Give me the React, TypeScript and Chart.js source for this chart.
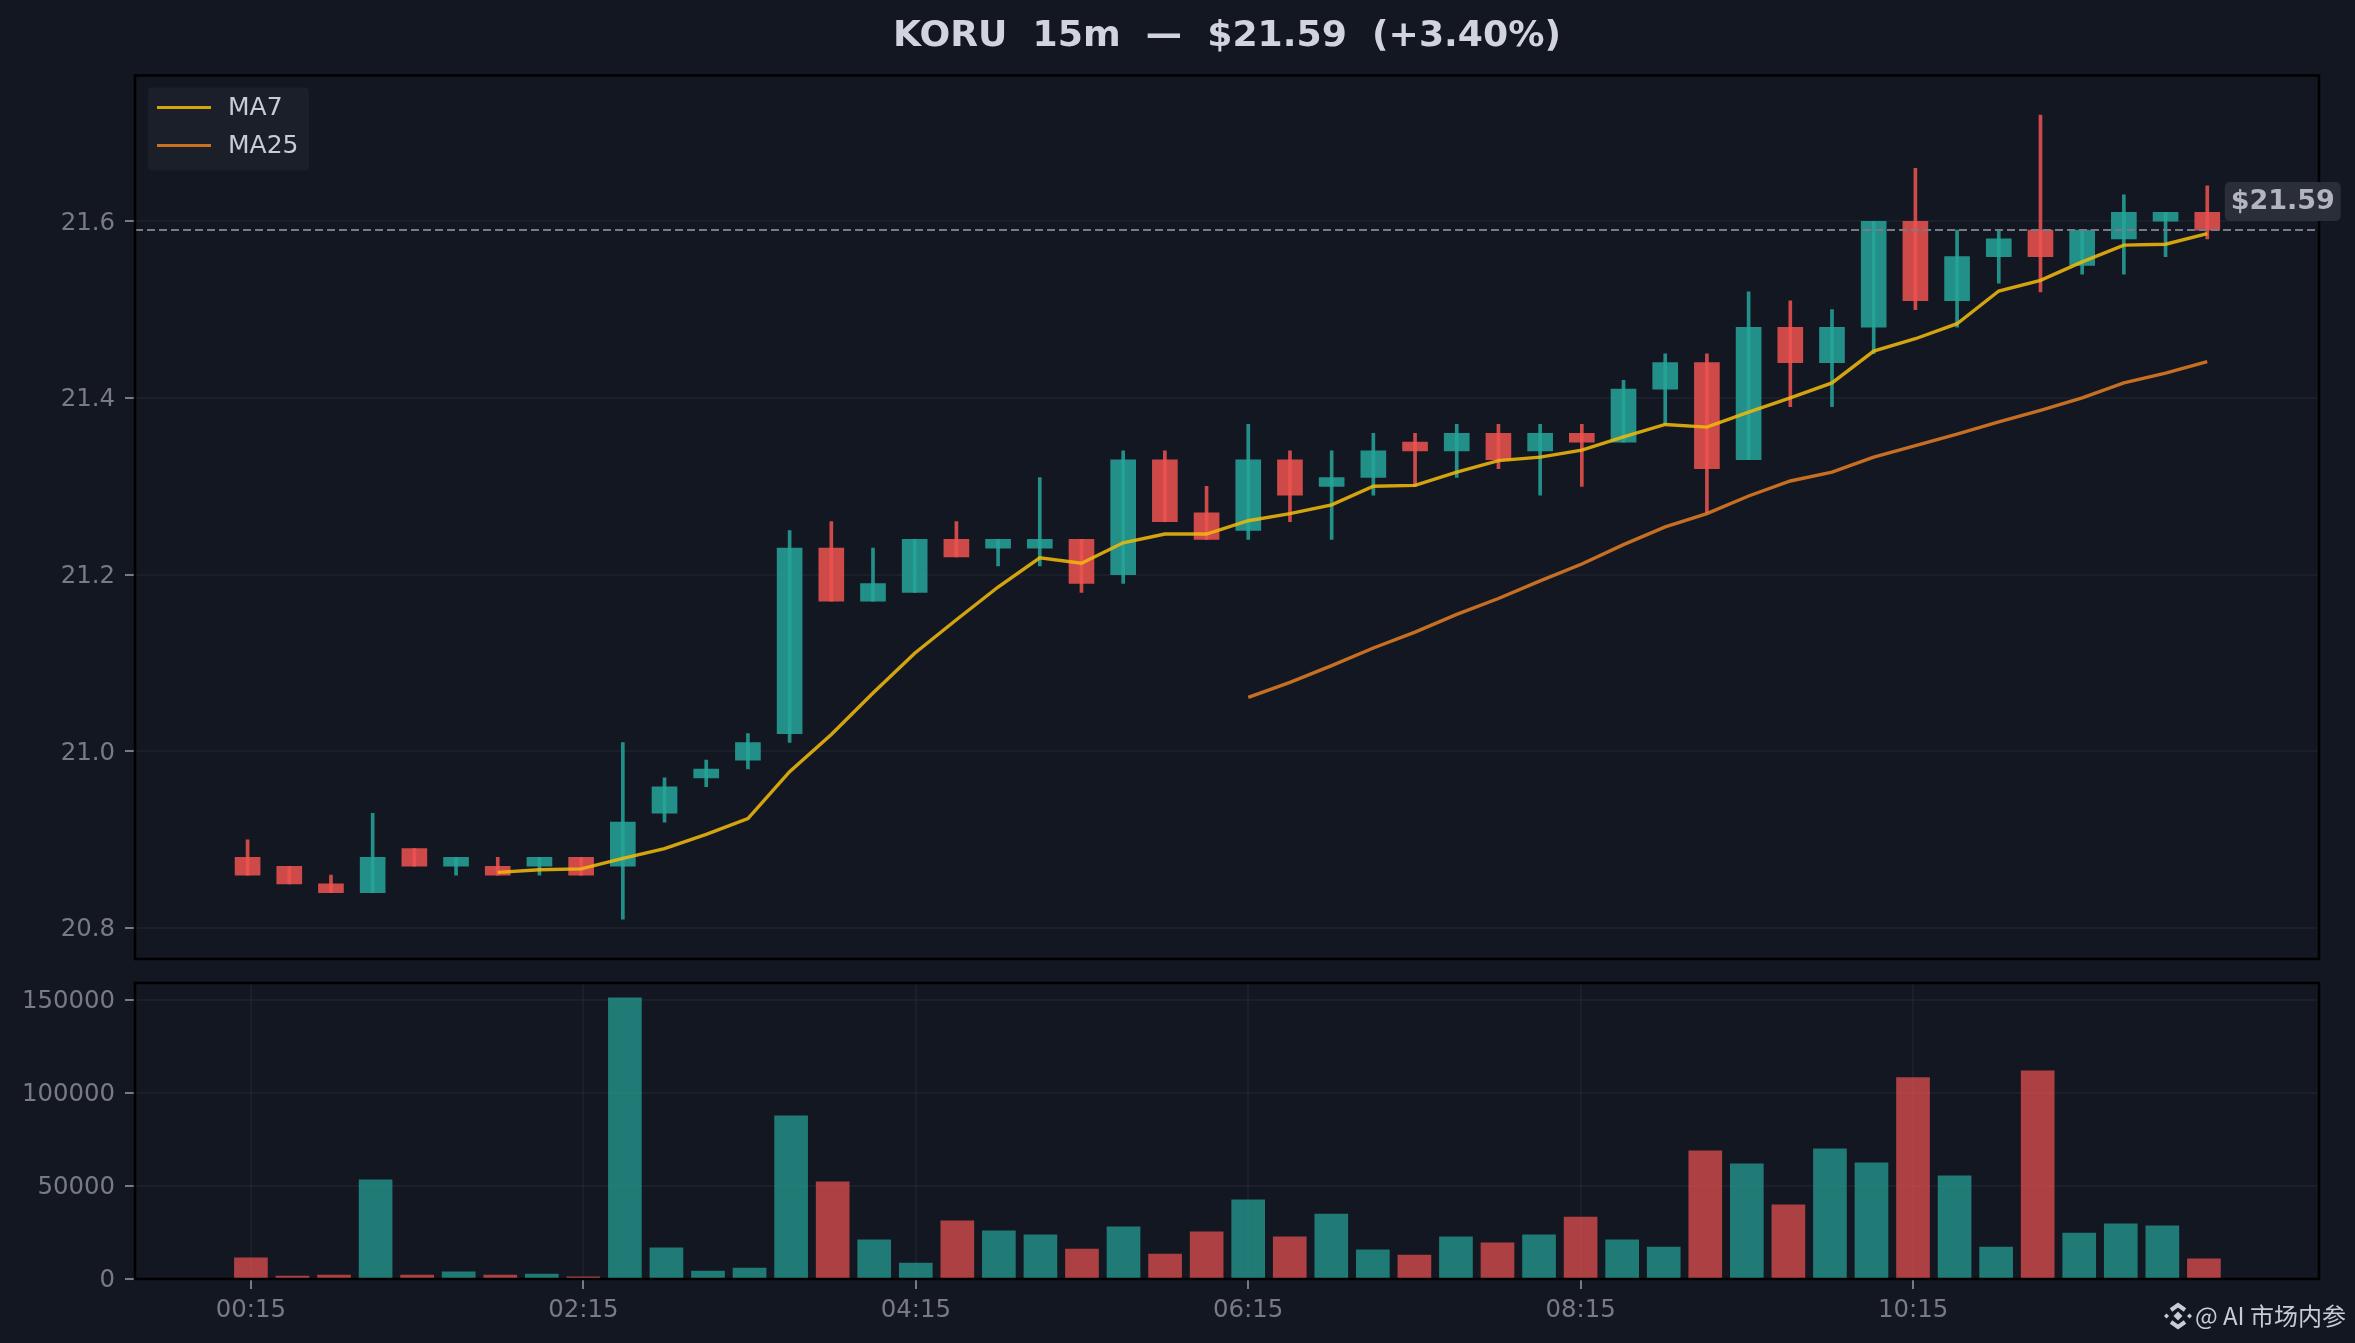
import React, { useEffect, useRef } from "react";
import { Chart, registerables } from "chart.js";

Chart.register(...registerables);

const times = [
  "00:15", "00:30", "00:45", "01:00", "01:15", "01:30", "01:45", "02:00",
  "02:15", "02:30", "02:45", "03:00", "03:15", "03:30", "03:45", "04:00",
  "04:15", "04:30", "04:45", "05:00", "05:15", "05:30", "05:45", "06:00",
  "06:15", "06:30", "06:45", "07:00", "07:15", "07:30", "07:45", "08:00",
  "08:15", "08:30", "08:45", "09:00", "09:15", "09:30", "09:45", "10:00",
  "10:15", "10:30", "10:45", "11:00", "11:15", "11:30", "11:45", "12:00",
];

const opens = [
  20.88, 20.87, 20.85, 20.84, 20.89, 20.87, 20.87, 20.87, 20.88, 20.87, 20.93, 20.97,
  20.99, 21.02, 21.23, 21.17, 21.18, 21.24, 21.23, 21.23, 21.24, 21.2, 21.33, 21.27,
  21.25, 21.33, 21.3, 21.31, 21.35, 21.34, 21.36, 21.34, 21.36, 21.35, 21.41, 21.44,
  21.33, 21.48, 21.44, 21.48, 21.6, 21.51, 21.56, 21.59, 21.55, 21.58, 21.6, 21.61,
];
const closes = [
  20.86, 20.85, 20.84, 20.88, 20.87, 20.88, 20.86, 20.88, 20.86, 20.92, 20.96, 20.98,
  21.01, 21.23, 21.17, 21.19, 21.24, 21.22, 21.24, 21.24, 21.19, 21.33, 21.26, 21.24,
  21.33, 21.29, 21.31, 21.34, 21.34, 21.36, 21.33, 21.36, 21.35, 21.41, 21.44, 21.32,
  21.48, 21.44, 21.48, 21.6, 21.51, 21.56, 21.58, 21.56, 21.59, 21.61, 21.61, 21.59,
];
const highs = [
  20.9, 20.87, 20.86, 20.93, 20.89, 20.88, 20.88, 20.88, 20.88, 21.01, 20.97, 20.99,
  21.02, 21.25, 21.26, 21.23, 21.24, 21.26, 21.24, 21.31, 21.24, 21.34, 21.34, 21.3,
  21.37, 21.34, 21.34, 21.36, 21.36, 21.37, 21.37, 21.37, 21.37, 21.42, 21.45, 21.45,
  21.52, 21.51, 21.5, 21.6, 21.66, 21.59, 21.59, 21.72, 21.59, 21.63, 21.61, 21.64,
];
const lows = [
  20.86, 20.85, 20.84, 20.84, 20.87, 20.86, 20.86, 20.86, 20.86, 20.81, 20.92, 20.96,
  20.98, 21.01, 21.17, 21.17, 21.18, 21.22, 21.21, 21.21, 21.18, 21.19, 21.26, 21.24,
  21.24, 21.26, 21.24, 21.29, 21.3, 21.31, 21.32, 21.29, 21.3, 21.35, 21.37, 21.27,
  21.33, 21.39, 21.39, 21.45, 21.5, 21.48, 21.53, 21.52, 21.54, 21.54, 21.56, 21.58,
];
const ma7 = [
  null, null, null, null, null, null, 20.863, 20.866, 20.867, 20.879, 20.89, 20.906,
  20.924, 20.977, 21.019, 21.066, 21.111, 21.149, 21.186, 21.219, 21.213, 21.236, 21.246, 21.246,
  21.261, 21.269, 21.279, 21.3, 21.301, 21.316, 21.329, 21.333, 21.341, 21.356, 21.37, 21.367,
  21.384, 21.4, 21.417, 21.453, 21.467, 21.484, 21.521, 21.533, 21.554, 21.573, 21.574, 21.586,
];
const ma25 = [
  null, null, null, null, null, null, null, null, null, null, null, null,
  null, null, null, null, null, null, null, null, null, null, null, null,
  21.061, 21.078, 21.097, 21.117, 21.135, 21.155, 21.173, 21.193, 21.212, 21.234, 21.254, 21.269,
  21.289, 21.306, 21.316, 21.333, 21.346, 21.359, 21.373, 21.386, 21.4, 21.417, 21.428, 21.441,
];
const volumes = [
  11300, 1600, 2100, 53200, 2100, 3800, 2100, 2700, 1100, 151000, 16700, 4300,
  5900, 87600, 52100, 21000, 8600, 31200, 25800, 23700, 16100, 28000, 13400, 25300,
  42500, 22600, 34900, 15600, 12900, 22600, 19400, 23700, 33300, 21000, 17200, 68800,
  61800, 39800, 69900, 62400, 108100, 55400, 17200, 111800, 24700, 29600, 28500, 10800,
];
const timeTicks = [0, 8, 16, 24, 32, 40];
const priceTicks = [20.8, 21.0, 21.2, 21.4, 21.6];
const volumeTicks = [0, 50000, 100000, 150000];
const lastPrice = 21.59;

const BG = "#131722";
const TICK = "#787b86";
const GRID = "rgba(255,255,255,0.035)";
const FONT = { family: "'DejaVu Sans'", size: 24.4 };
// the two panels do not share the same x margins
const MAIN_X = { min: -2.7, max: 49.68 };
const VOL_X = { min: -2.79, max: 49.77 };

const isUp = (i: number) => closes[i] >= opens[i];
const candleColor = (alpha: number) =>
  times.map((_, i) => (isUp(i) ? `rgba(38,166,154,${alpha})` : `rgba(239,83,80,${alpha})`));

const setTicks = (values: number[]) => (s: any) => {
  s.ticks = values.map((value) => ({ value }));
};

// fixed gutter; no extra room for the first and last tick label
const fitYAxis = (s: any) => {
  s.width = 135;
  s.paddingTop = 0;
  s.paddingBottom = 0;
};

// spines go on top of the bars
const framePlugin = {
  id: "frame",
  afterDatasetsDraw(chart: any) {
    const { ctx, chartArea: a } = chart;
    ctx.save();
    ctx.strokeStyle = "#000";
    ctx.lineWidth = 2.5;
    ctx.strokeRect(a.left, a.top, a.right - a.left, a.bottom - a.top);
    ctx.restore();
  },
};

// legend box in the corner, and the last price tag
const mainExtras = {
  id: "mainExtras",
  afterDraw(chart: any) {
    const { ctx, chartArea: a, scales } = chart;
    ctx.save();
    ctx.fillStyle = "#1b1f2a";
    ctx.beginPath();
    ctx.roundRect(a.left + 13, a.top + 12, 161, 83, 4);
    ctx.fill();
    ctx.font = "25px 'DejaVu Sans'";
    ctx.textBaseline = "middle";
    ctx.textAlign = "left";
    chart.data.datasets
      .filter((d: any) => d.label === "MA7" || d.label === "MA25")
      .forEach((d: any, i: number) => {
        const y = a.top + 32 + i * 38;
        ctx.strokeStyle = d.borderColor;
        ctx.lineWidth = 3;
        ctx.beginPath();
        ctx.moveTo(a.left + 22, y);
        ctx.lineTo(a.left + 76, y);
        ctx.stroke();
        ctx.fillStyle = "#c8ccd4";
        ctx.fillText(d.label, a.left + 93, y + 1);
      });

    const tagX = scales.x.getPixelForValue(times.length - 1) + 17.5;
    const tagY = scales.y.getPixelForValue(lastPrice) - 48;
    ctx.fillStyle = "#2a2e39";
    ctx.beginPath();
    ctx.roundRect(tagX, tagY, 116, 39, 5);
    ctx.fill();
    ctx.fillStyle = "#b2b5be";
    ctx.font = "bold 27px 'DejaVu Sans'";
    ctx.textAlign = "center";
    ctx.fillText("$" + lastPrice.toFixed(2), tagX + 58, tagY + 20);
    ctx.restore();
  },
};

// watermark at the bottom right
const watermark = {
  id: "watermark",
  afterDraw(chart: any) {
    const { ctx } = chart;
    const cx = 2178;
    const cy = chart.height - 27;
    ctx.save();
    ctx.fillStyle = "#c8ccd4";
    ctx.strokeStyle = "#c8ccd4";
    const diamond = (x: number, y: number, r: number) => {
      ctx.beginPath();
      ctx.moveTo(x, y - r);
      ctx.lineTo(x + r, y);
      ctx.lineTo(x, y + r);
      ctx.lineTo(x - r, y);
      ctx.closePath();
      ctx.fill();
    };
    diamond(cx, cy, 4.5);
    diamond(cx - 11.5, cy, 2.5);
    diamond(cx + 11.5, cy, 2.5);
    ctx.lineWidth = 4;
    ctx.beginPath();
    ctx.moveTo(cx - 7, cy - 6);
    ctx.lineTo(cx, cy - 11);
    ctx.lineTo(cx + 7, cy - 6);
    ctx.moveTo(cx - 7, cy + 6);
    ctx.lineTo(cx, cy + 11);
    ctx.lineTo(cx + 7, cy + 6);
    ctx.stroke();
    ctx.font = "24px 'Noto Sans CJK SC', 'DejaVu Sans'";
    ctx.textBaseline = "middle";
    ctx.textAlign = "right";
    ctx.fillText("@ AI 市场内参", 2346, cy);
    ctx.restore();
  },
};

const pricePoints = (values: (number | null)[]) => values.map((y, x) => ({ x, y }));

export default function App() {
  const mainRef = useRef<HTMLCanvasElement | null>(null);
  const volRef = useRef<HTMLCanvasElement | null>(null);

  useEffect(() => {
    if (!mainRef.current || !volRef.current) return;
    document.body.style.margin = "0";
    document.body.style.background = BG;

    const main = new Chart(mainRef.current, {
      type: "bar",
      data: {
        datasets: [
          {
            type: "line",
            label: "MA7",
            data: pricePoints(ma7),
            borderColor: "rgba(240,185,11,0.87)",
            borderWidth: 3.4,
            pointRadius: 0,
            order: 0,
          },
          {
            type: "line",
            label: "MA25",
            data: pricePoints(ma25),
            borderColor: "rgba(230,126,34,0.85)",
            borderWidth: 3.4,
            pointRadius: 0,
            order: 0,
          },
          {
            type: "line",
            label: "last",
            data: [
              { x: MAIN_X.min, y: lastPrice },
              { x: MAIN_X.max, y: lastPrice },
            ],
            borderColor: TICK,
            borderWidth: 2,
            borderDash: [8, 4],
            pointRadius: 0,
            order: 1,
          },
          {
            label: "wick",
            data: times.map((_, i) => ({ x: i, y: [lows[i], highs[i]] })),
            backgroundColor: candleColor(0.85),
            barThickness: 3,
            grouped: false,
            order: 2,
          },
          {
            label: "body",
            data: times.map((_, i) => ({ x: i, y: [opens[i], closes[i]] })),
            backgroundColor: candleColor(0.85),
            barThickness: 25,
            grouped: false,
            order: 3,
          },
        ],
      } as any,
      options: {
        responsive: false,
        animation: false,
        devicePixelRatio: 1,
        layout: { padding: { right: 36, bottom: 11 } },
        plugins: {
          legend: { display: false },
          tooltip: { enabled: false },
          title: {
            display: true,
            fullSize: false,
            text: "KORU  15m  —  $21.59  (+3.40%)",
            color: "#d1d4dc",
            font: { family: "'DejaVu Sans'", size: 36.2, weight: "bold" },
            padding: { top: 15, bottom: 17 },
          },
        },
        scales: {
          x: { type: "linear", bounds: "data", offset: false, ...MAIN_X, display: false },
          y: {
            bounds: "data",
            min: 20.765,
            max: 21.765,
            afterBuildTicks: setTicks(priceTicks),
            afterFit: fitYAxis,
            border: { display: false },
            grid: { color: GRID, lineWidth: 2, tickColor: TICK, tickWidth: 2, tickLength: 10 },
            ticks: {
              padding: 10,
              labelOffset: 2,
              color: TICK,
              font: FONT,
              callback: (v: any) => Number(v).toFixed(1),
            },
          },
        },
      } as any,
      plugins: [framePlugin, mainExtras],
    });

    const vol = new Chart(volRef.current, {
      type: "bar",
      data: {
        datasets: [
          {
            label: "Volume",
            data: volumes.map((y, x) => ({ x, y })),
            backgroundColor: candleColor(0.7),
            barThickness: 33,
          },
        ],
      },
      options: {
        responsive: false,
        animation: false,
        devicePixelRatio: 1,
        layout: { padding: { top: 13, right: 36 } },
        plugins: { legend: { display: false }, tooltip: { enabled: false } },
        scales: {
          x: {
            type: "linear",
            bounds: "data",
            offset: false,
            ...VOL_X,
            afterBuildTicks: setTicks(timeTicks),
            border: { display: false },
            grid: { offset: false, color: GRID, lineWidth: 2, tickColor: TICK, tickWidth: 2, tickLength: 10 },
            ticks: {
              autoSkip: false,
              maxRotation: 0,
              padding: 7,
              color: TICK,
              font: FONT,
              callback: (v: any) => times[v],
            },
            afterFit: (s: any) => {
              s.height = 64;
            },
          },
          y: {
            bounds: "data",
            min: 0,
            max: 158900,
            afterBuildTicks: setTicks(volumeTicks),
            afterFit: fitYAxis,
            border: { display: false },
            grid: { color: GRID, lineWidth: 2, tickColor: TICK, tickWidth: 2, tickLength: 10 },
            ticks: {
              padding: 10,
              labelOffset: 2,
              color: TICK,
              font: FONT,
              callback: (v: any) => String(v),
            },
          },
        },
      } as any,
      plugins: [framePlugin, watermark],
    });

    return () => {
      main.destroy();
      vol.destroy();
    };
  }, []);

  return (
    <div style={{ position: "absolute", left: 0, top: 0, width: 2355, height: 1343, background: BG, overflow: "hidden" }}>
      <canvas ref={mainRef} width={2355} height={970} style={{ position: "absolute", left: 0, top: 0 }} />
      <canvas ref={volRef} width={2355} height={373} style={{ position: "absolute", left: 0, top: 970 }} />
    </div>
  );
}
